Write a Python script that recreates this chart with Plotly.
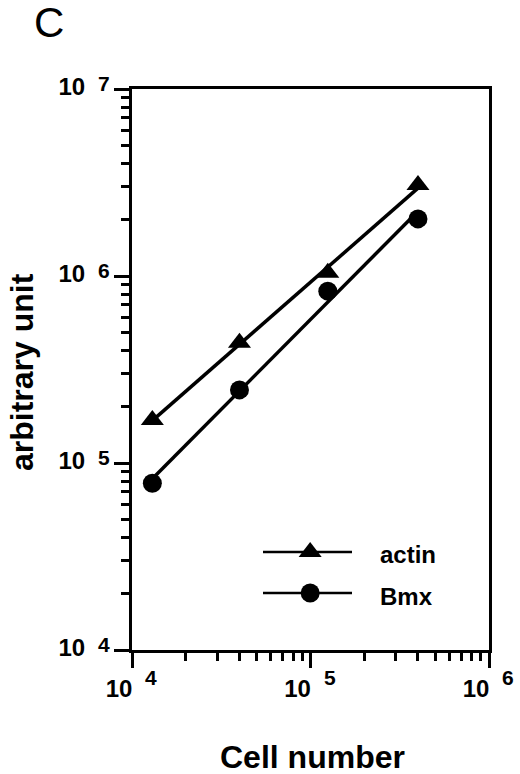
import numpy as np
import plotly.graph_objects as go

# Data
cell_number = [13000, 40000, 125000, 400000]
actin = [170000, 440000, 1040000, 3070000]
bmx = [78000, 246000, 830000, 2020000]

x_tick_vals = [1e4, 1e5, 1e6]
y_tick_vals = [1e4, 1e5, 1e6, 1e7]
x_tick_exp = ["4", "5", "6"]
y_tick_exp = ["4", "5", "6", "7"]

FONT = "Liberation Sans, Arial, Helvetica, sans-serif"
TICK_SIZE = 24
SUP_SIZE = 21

# plot area in pixels
L, R, T, B = 132, 31, 89, 124
W, H = 520, 774
PW, PH = W - L - R, H - T - B


def fit_line(x, y):
    lx, ly = np.log10(x), np.log10(y)
    k, b = np.polyfit(lx, ly, 1)
    xe = np.array([x[0], x[-1]])
    return xe, 10 ** (k * np.log10(xe) + b)


fig = go.Figure()

for name, ys, sym, size in [("actin", actin, "triangle-up", 20), ("Bmx", bmx, "circle", 19)]:
    fx, fy = fit_line(cell_number, ys)
    fig.add_trace(go.Scatter(x=fx, y=fy, mode="lines", line=dict(color="black", width=3.5),
                             showlegend=False, hoverinfo="skip"))
    fig.add_trace(go.Scatter(x=cell_number, y=ys, mode="markers", name=name,
                             marker=dict(symbol=sym, size=size, color="black"), showlegend=False))

# legend glyphs on a separate small axis (rows at y=1 and y=0)
legend_items = [("actin", "triangle-up", 20, 1.0), ("Bmx", "circle", 19, 0.0)]
for name, sym, size, yy in legend_items:
    fig.add_trace(go.Scatter(x=[0, 1], y=[yy, yy], mode="lines",
                             line=dict(color="black", width=2.7),
                             xaxis="x2", yaxis="y2", showlegend=False, hoverinfo="skip"))
    fig.add_trace(go.Scatter(x=[0.53], y=[yy], mode="markers", cliponaxis=False,
                             marker=dict(symbol=sym, size=size, color="black"),
                             xaxis="x2", yaxis="y2", showlegend=False, hoverinfo="skip"))
    fig.add_annotation(x=1, y=yy, xref="x2", yref="y2", text="<b>%s</b>" % name,
                       showarrow=False, xanchor="left", xshift=26, yshift=(-2 if yy else -3),
                       font=dict(family=FONT, size=24, color="black"))

axis_common = dict(
    type="log", showgrid=False, zeroline=False, showline=True, linecolor="black", linewidth=3,
    mirror=True, ticks="outside", ticklen=15, tickwidth=3, tickcolor="black",
    tickfont=dict(family=FONT, size=TICK_SIZE, color="black", weight="bold"),
    minor=dict(ticks="outside", ticklen=8, tickwidth=2.5, tickcolor="black", dtick="D1", showgrid=False),
)

row_px = 593 - 552
fig.update_layout(
    width=W, height=H,
    margin=dict(l=L, r=R, t=T, b=B),
    paper_bgcolor="white", plot_bgcolor="white",
    font=dict(family=FONT, color="black"),
    xaxis=dict(axis_common, range=[4, 6], tickmode="array", tickvals=x_tick_vals,
               ticktext=["10" for _ in x_tick_vals], ticklabelstandoff=0, ticklabelshift=-13),
    yaxis=dict(axis_common, range=[4, 7], tickmode="array", tickvals=y_tick_vals,
               ticktext=["10" for _ in y_tick_vals], ticklabelstandoff=24, ticklabelshift=-2),
    xaxis2=dict(domain=[(263 - L) / PW, (352 - L) / PW], range=[0, 1], visible=False, anchor="y2"),
    yaxis2=dict(domain=[(H - B - 593 - row_px / 2) / PH, (H - B - 552 + row_px / 2) / PH],
                range=[-0.5, 1.5], visible=False, anchor="x2"),
    showlegend=False,
)

# superscript exponents of tick labels
for v, e in zip(x_tick_vals, x_tick_exp):
    fig.add_annotation(x=np.log10(v), y=0, xref="x", yref="paper", text="<b>%s</b>" % e,
                       showarrow=False, xanchor="left", yanchor="middle", xshift=11, yshift=-27,
                       font=dict(family=FONT, size=SUP_SIZE, color="black"))
for v, e in zip(y_tick_vals, y_tick_exp):
    fig.add_annotation(x=0, y=np.log10(v), xref="paper", yref="y", text="<b>%s</b>" % e,
                       showarrow=False, xanchor="right", yanchor="middle", xshift=-20, yshift=6,
                       font=dict(family=FONT, size=SUP_SIZE, color="black"))

# axis titles
fig.add_annotation(xref="paper", yref="paper", x=(312 - L) / PW, y=-(757 - (H - B)) / PH,
                   xanchor="center", yanchor="middle", text="<b>Cell number</b>", showarrow=False,
                   font=dict(family=FONT, size=32, color="black"))
fig.add_annotation(xref="paper", yref="paper", x=(22 - L) / PW, y=((H - B) - 372) / PH,
                   xanchor="center", yanchor="middle", text="<b>arbitrary unit</b>", showarrow=False,
                   textangle=-90, font=dict(family=FONT, size=32, color="black"))

fig.add_annotation(xref="paper", yref="paper",
                   x=(49 - L) / PW, y=1 + (T - 22) / PH,
                   xanchor="center", yanchor="middle", text="C", showarrow=False,
                   font=dict(family=FONT, size=42, color="black"))

fig.write_html("out.html", config={"displayModeBar": False},
               post_script="document.body.style.margin='0';document.body.style.padding='0';")
